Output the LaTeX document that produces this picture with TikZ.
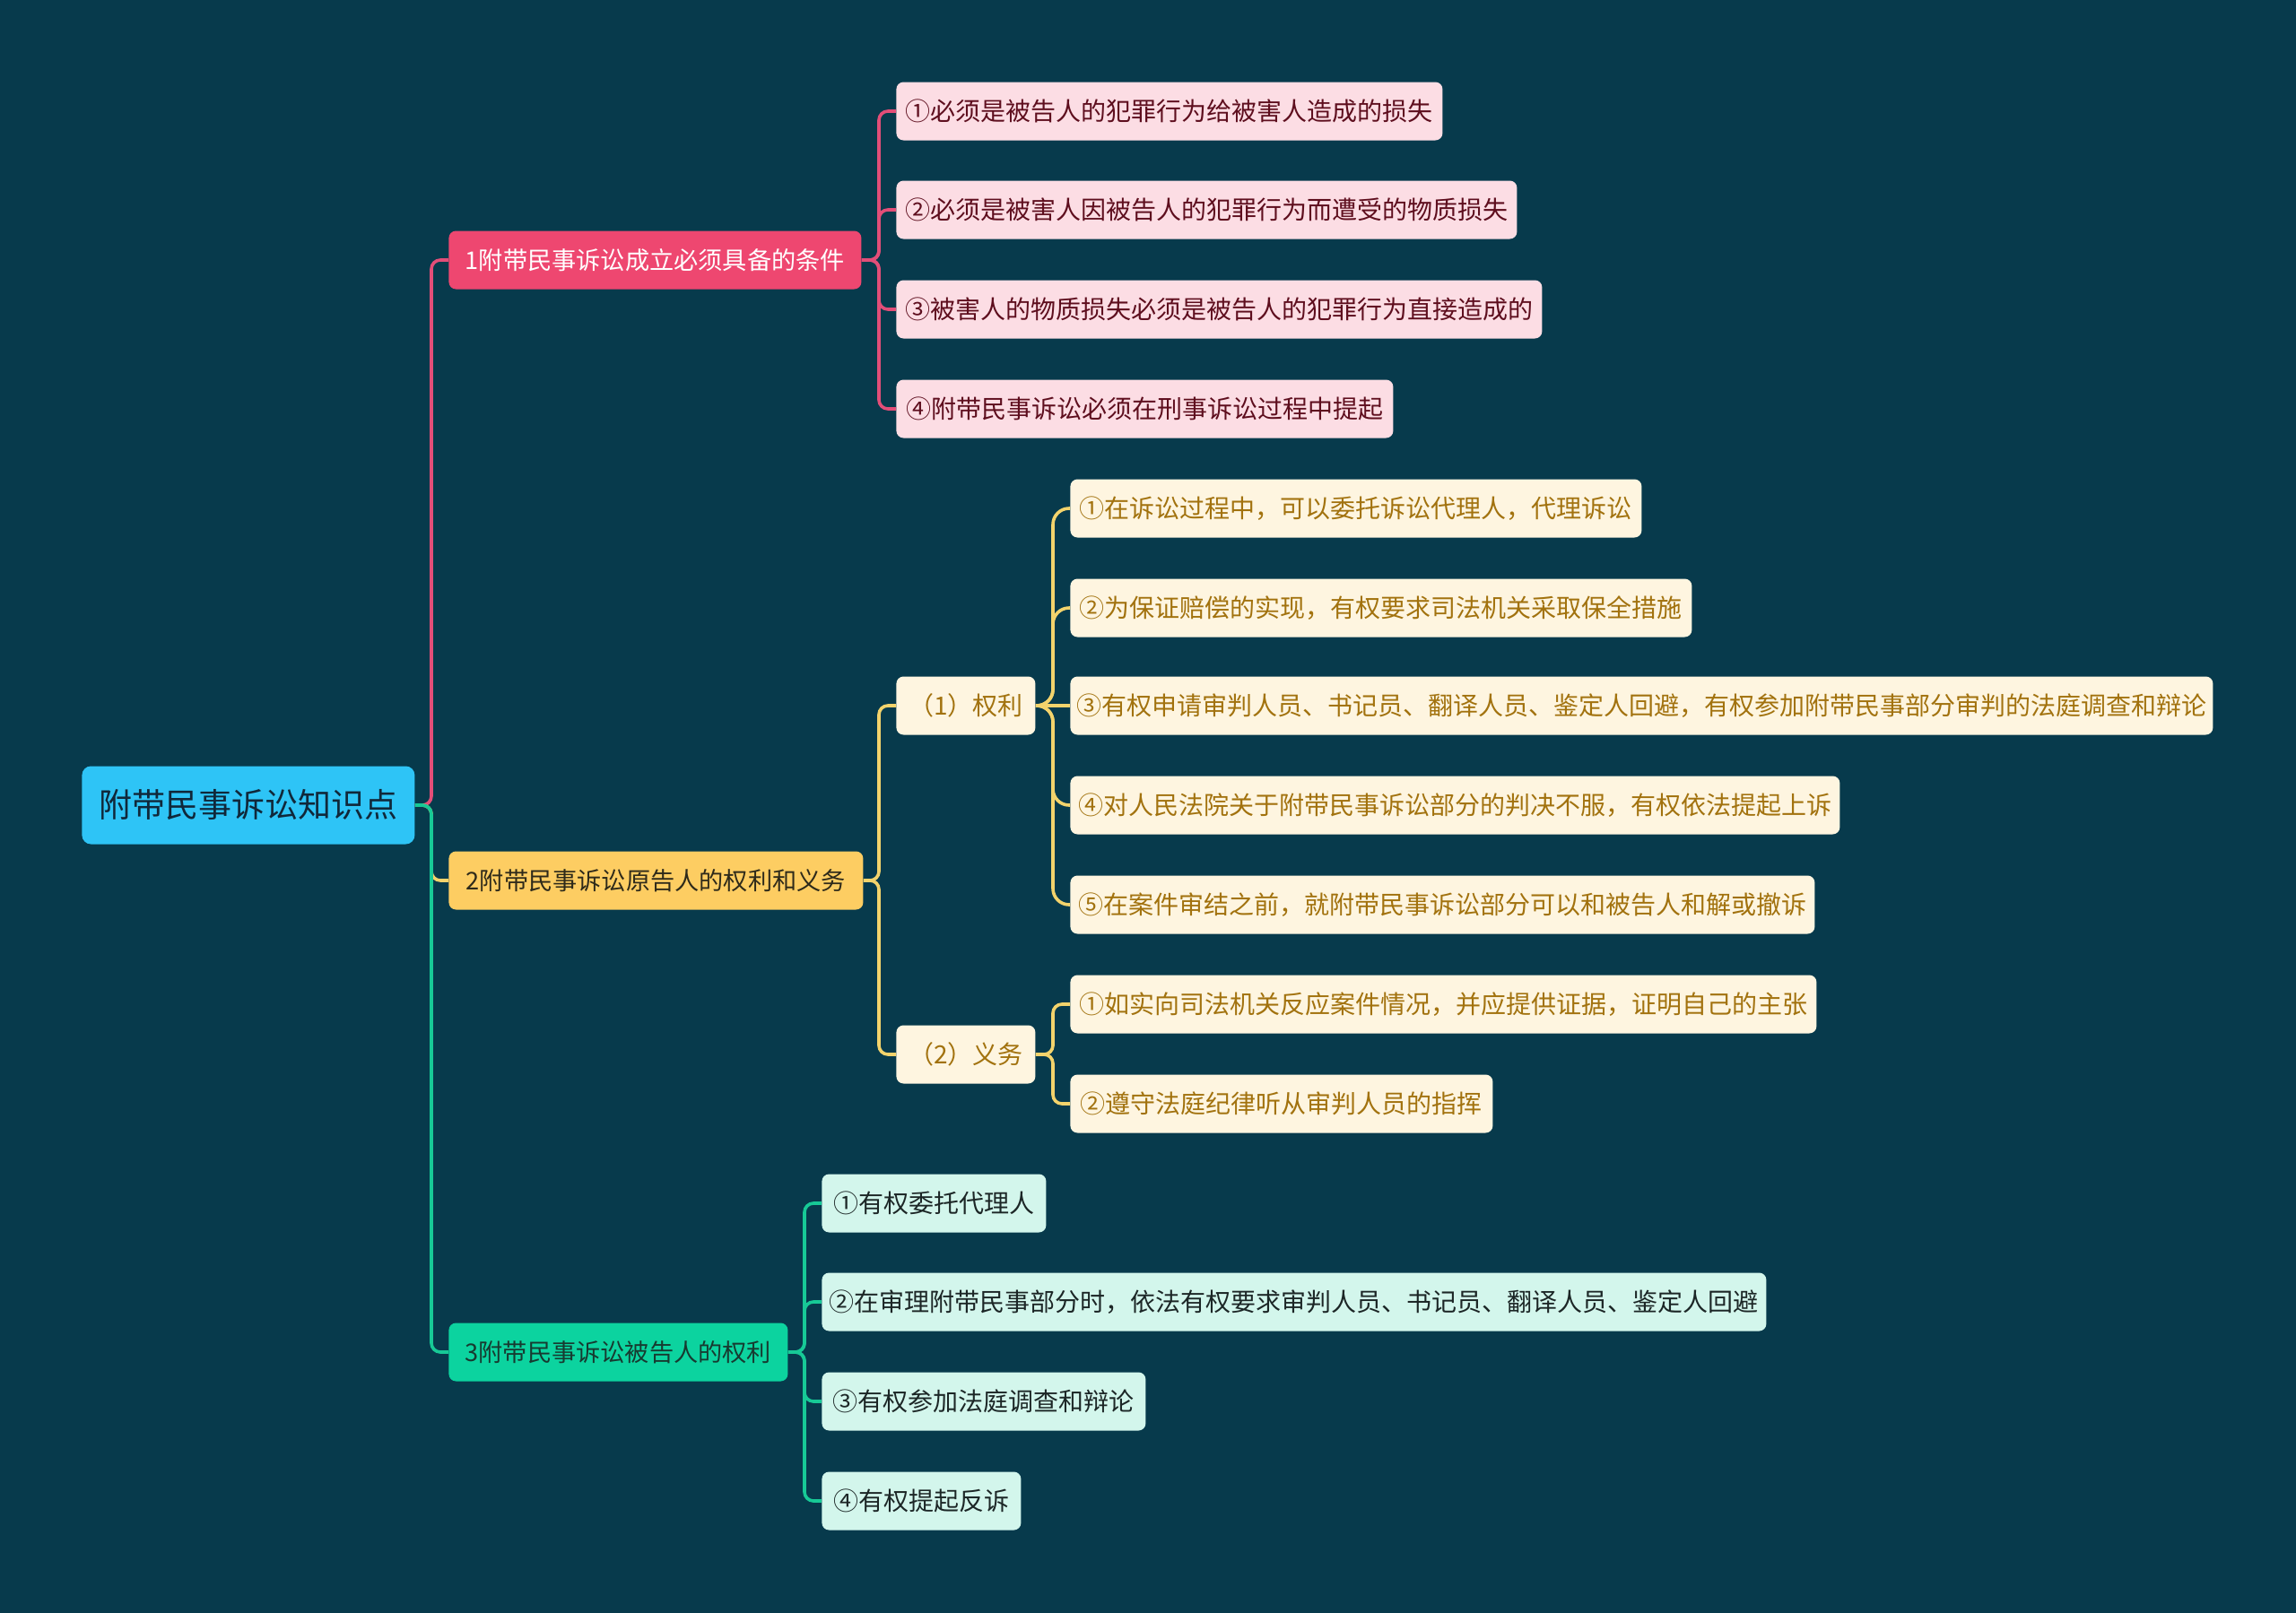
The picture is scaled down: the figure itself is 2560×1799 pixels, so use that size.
\documentclass[tikz,border=0pt]{standalone}
\usepackage{fontspec}
\setmainfont{Noto Sans CJK SC}
\definecolor{bg}{HTML}{073A4C}
\definecolor{rootfill}{HTML}{2EC4F6}
\definecolor{roottext}{HTML}{10283A}
\definecolor{pinkmain}{HTML}{EE4770}
\definecolor{pinkleaf}{HTML}{FCDDE4}
\definecolor{pinktext}{HTML}{5E0E1E}
\definecolor{pinkline}{HTML}{E24E78}
\definecolor{yelmain}{HTML}{FDCD62}
\definecolor{yelleaf}{HTML}{FEF5E0}
\definecolor{yeltext}{HTML}{A2720E}
\definecolor{yelmaintext}{HTML}{2E2A1A}
\definecolor{yelline}{HTML}{F3D36C}
\definecolor{grnmain}{HTML}{0CD39F}
\definecolor{grnleaf}{HTML}{D3F6EC}
\definecolor{grntext}{HTML}{1C2626}
\definecolor{grnmaintext}{HTML}{173A30}
\definecolor{grnline}{HTML}{17C996}
\tikzset{
  box/.style={anchor=west, rounded corners=4pt, minimum height=32.5pt, inner sep=0pt},
  rootbox/.style={anchor=west, rounded corners=5pt, minimum height=43.5pt, inner sep=0pt,
    fill=rootfill, text=roottext, font=\fontsize{18.5pt}{20pt}\selectfont},
  mainfont/.style={font=\fontsize{13.6pt}{16pt}\selectfont},
  leaffont/.style={font=\fontsize{14pt}{16pt}\selectfont},
  pmain/.style={box, mainfont, fill=pinkmain, text=white},
  pleaf/.style={box, leaffont, fill=pinkleaf, text=pinktext},
  ymain/.style={box, mainfont, fill=yelmain, text=yelmaintext},
  yleaf/.style={box, leaffont, fill=yelleaf, text=yeltext},
  gmain/.style={box, mainfont, fill=grnmain, text=grnmaintext},
  gleaf/.style={box, leaffont, fill=grnleaf, text=grntext},
  conn/.style={line width=1.8pt, rounded corners=5pt},
  pconn/.style={conn, draw=pinkline},
  yconn/.style={conn, draw=yelline},
  gconn/.style={conn, draw=grnline},
}
\begin{document}
\begin{tikzpicture}[x=0.5pt, y=-0.5pt]
\fill[bg] (0,0) rectangle (2560,1799);
% root
\node[rootbox, minimum width=185.5pt] (root) at (91,898) {附带民事诉讼知识点};
% level 1
\node[pmain, minimum width=230pt] (n1) at (500,290) {1附带民事诉讼成立必须具备的条件};
\node[ymain, minimum width=231pt] (n2) at (500,982) {2附带民事诉讼原告人的权利和义务};
\node[gmain, minimum width=189pt] (n3) at (500,1508) {3附带民事诉讼被告人的权利};
% pink leaves
\node[pleaf, minimum width=304.5pt] (p1) at (999,124) {①必须是被告人的犯罪行为给被害人造成的损失};
\node[pleaf, minimum width=346pt] (p2) at (999,234) {②必须是被害人因被告人的犯罪行为而遭受的物质损失};
\node[pleaf, minimum width=360pt] (p3) at (999,345) {③被害人的物质损失必须是被告人的犯罪行为直接造成的};
\node[pleaf, minimum width=277pt] (p4) at (999,456) {④附带民事诉讼必须在刑事诉讼过程中提起};
% yellow sub
\node[yleaf, minimum width=77.5pt] (r) at (999,787) {（1）权利};
\node[yleaf, minimum width=77.5pt] (d) at (999,1176) {（2）义务};
\node[yleaf, minimum width=318.5pt] (r1) at (1193,567) {①在诉讼过程中，可以委托诉讼代理人，代理诉讼};
\node[yleaf, minimum width=346.5pt] (r2) at (1193,678) {②为保证赔偿的实现，有权要求司法机关采取保全措施};
\node[yleaf, minimum width=637pt] (r3) at (1193,787) {③有权申请审判人员、书记员、翻译人员、鉴定人回避，有权参加附带民事部分审判的法庭调查和辩论};
\node[yleaf, minimum width=429pt] (r4) at (1193,898) {④对人民法院关于附带民事诉讼部分的判决不服，有权依法提起上诉};
\node[yleaf, minimum width=415pt] (r5) at (1193,1009) {⑤在案件审结之前，就附带民事诉讼部分可以和被告人和解或撤诉};
\node[yleaf, minimum width=416pt] (d1) at (1193,1120) {①如实向司法机关反应案件情况，并应提供证据，证明自己的主张};
\node[yleaf, minimum width=235.5pt] (d2) at (1193,1231) {②遵守法庭纪律听从审判人员的指挥};
% green leaves
\node[gleaf, minimum width=125pt] (g1) at (916,1342) {①有权委托代理人};
\node[gleaf, minimum width=526.5pt] (g2) at (916,1452) {②在审理附带民事部分时，依法有权要求审判人员、书记员、翻译人员、鉴定人回避};
\node[gleaf, minimum width=180.5pt] (g3) at (916,1563) {③有权参加法庭调查和辩论};
\node[gleaf, minimum width=111pt] (g4) at (916,1674) {④有权提起反诉};
% trunk coordinates
\coordinate (t0) at (481,898);
\coordinate (t1) at (980,290);
\coordinate (t2) at (980,982);
\coordinate (t3) at (897,1508);
\coordinate (tr) at (1174,787);
\coordinate (td) at (1174,1176);
% connectors: pink
\draw[pconn] (root.east) -- (t0) |- (n1.west);
\foreach \c in {p1,p2,p3,p4} \draw[pconn] (n1.east) -- (t1) |- (\c.west);
% yellow
\draw[yconn] (root.east) -- (t0) |- (n2.west);
\foreach \c in {r,d} \draw[yconn] (n2.east) -- (t2) |- (\c.west);
\foreach \c in {r1,r2,r4,r5} \draw[yconn, rounded corners=9pt] (r.east) -- (tr) |- (\c.west);
\draw[yconn] (r.east) -- (r3.west);
\foreach \c in {d1,d2} \draw[yconn] (d.east) -- (td) |- (\c.west);
% green
\draw[gconn] (root.east) -- (t0) |- (n3.west);
\foreach \c in {g1,g2,g3,g4} \draw[gconn] (n3.east) -- (t3) |- (\c.west);
\end{tikzpicture}
\end{document}
